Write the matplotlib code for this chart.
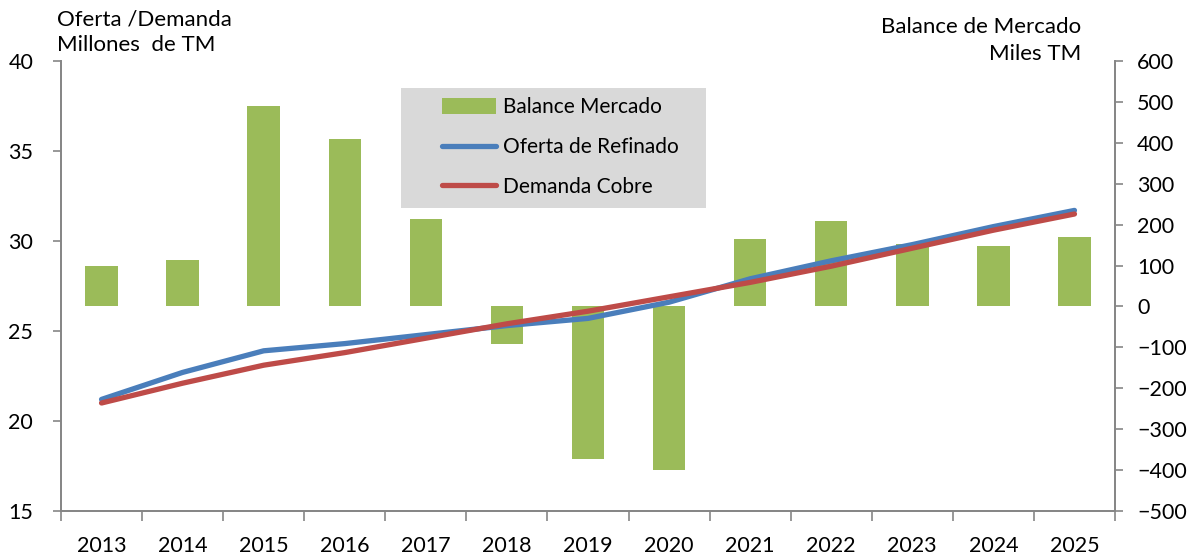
import matplotlib
matplotlib.use("Agg")
import matplotlib.pyplot as plt
from matplotlib.patches import Rectangle
import numpy as np

plt.rcParams['font.family'] = ['Lato', 'DejaVu Sans']

years = ["2013", "2014", "2015", "2016", "2017", "2018", "2019",
         "2020", "2021", "2022", "2023", "2024", "2025"]
balance = [99, 114, 490, 409, 214, -92, -373, -400, 165, 209, 153, 148, 170]
oferta = [21.2, 22.7, 23.9, 24.3, 24.8, 25.3, 25.7, 26.6, 27.9, 28.9, 29.8, 30.8, 31.7]
demanda = [21.0, 22.1, 23.1, 23.8, 24.6, 25.4, 26.1, 26.9, 27.7, 28.6, 29.6, 30.6, 31.5]

x = np.arange(len(years))
spine_col = "#868686"
fs = 15.5
W, H = 1201, 558

fig = plt.figure(figsize=(12.01, 5.58), dpi=100)
ax1 = fig.add_axes([61 / W, 1 - 511 / H, (1115 - 61) / W, 450 / H])
ax2 = ax1.twinx()

bars = ax2.bar(x, balance, width=0.4, color="#9BBB59", label="Balance Mercado", zorder=2)
l1, = ax1.plot(x, oferta, color="#4A7EBB", lw=3.8, label="Oferta de Refinado",
               solid_capstyle="round")
l2, = ax1.plot(x, demanda, color="#BE4B48", lw=3.8, label="Demanda Cobre",
               solid_capstyle="round")

ax1.set_zorder(ax2.get_zorder() + 1)
ax1.patch.set_visible(False)

ax1.set_xlim(-0.5, len(years) - 0.5)
ax1.set_ylim(15, 40)
ax1.set_yticks(np.arange(15, 41, 5))
ax2.set_ylim(-500, 600)
ax2.set_yticks(np.arange(-500, 601, 100))

# category ticks at the boundaries, labels centred
ax1.set_xticks(np.arange(-0.5, len(years), 1.0))
ax1.set_xticklabels([])
ax1.set_xticks(x, minor=True)
ax1.set_xticklabels(years, minor=True)
ax1.tick_params(axis="x", which="major", direction="out", length=7, color=spine_col, width=1.2)
ax1.tick_params(axis="x", which="minor", length=0, pad=18, labelsize=fs)
ax1.tick_params(axis="y", direction="out", length=6, color=spine_col, width=1.2,
                labelsize=fs, pad=14)
ax2.tick_params(axis="y", direction="out", length=6, color=spine_col, width=1.2,
                labelsize=fs, pad=10)

for ax in (ax1, ax2):
    ax.spines["top"].set_visible(False)
    for s in ("left", "right", "bottom"):
        ax.spines[s].set_color(spine_col)
        ax.spines[s].set_linewidth(1.3)

fig.text(57 / W, 1 - 10 / H, "Oferta /Demanda\nMillones  de TM", fontsize=16,
         va="top", ha="left", linespacing=1.3)
fig.text(1081 / W, 1 - 17 / H, "Balance de Mercado\nMiles TM", fontsize=16,
         va="top", ha="right", multialignment="right", linespacing=1.45)

# grey legend box
fig.add_artist(Rectangle((401 / W, 1 - 208 / H), 305 / W, 120 / H,
                         transform=fig.transFigure, facecolor="#D9D9D9",
                         edgecolor="none", zorder=3))
leg = fig.legend([bars, l1, l2], ["Balance Mercado", "Oferta de Refinado", "Demanda Cobre"],
                 loc="upper left", bbox_to_anchor=(436 / W, 1 - 91 / H),
                 bbox_transform=fig.transFigure, borderaxespad=0, fontsize=15,
                 frameon=False, handlelength=2.6, handleheight=0.75, labelspacing=0.95,
                 borderpad=0.3, handletextpad=0.3)
leg.set_zorder(4)

fig.savefig("out.png", dpi=100)
